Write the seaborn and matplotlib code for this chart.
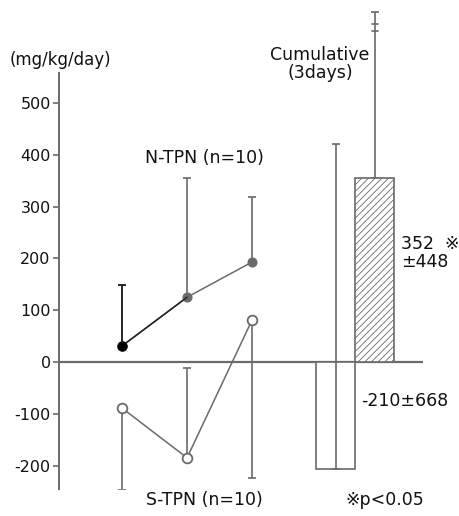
import matplotlib
matplotlib.use("Agg")
import matplotlib.pyplot as plt
import seaborn as sns
import numpy as np
import pandas as pd

# ---- data ----
days = [0, 1, 2]
n_tpn_mean = [31, 125, 193]
n_tpn_err_up = [118, 230, 126]           # upward SD only
s_tpn_mean = [-89, -185, 81]
s_tpn_err_low = [158, 0, 305]            # downward part
s_tpn_err_up = [0, 173, 0]               # upward part

bar_x = [3.29, 3.89]
bar_vals = [-207, 355]
bar_err_up = [628, 321]                  # error bar length above the bar value (second clipped at break)

yticks = [-200, -100, 0, 100, 200, 300, 400, 500]
ytick_labels = ["-200", "-100", "0", "100", "200", "300", "400", "500"]

sns.set_theme(style="white")
plt.rcParams['font.family'] = ['DejaVu Sans', 'Noto Sans CJK JP']
plt.rcParams['hatch.color'] = '#8a8a8a'
plt.rcParams['hatch.linewidth'] = 0.6
plt.rcParams['text.color'] = '#111111'
plt.rcParams['ytick.color'] = '#111111'

fig = plt.figure(figsize=(4.59, 5.16), dpi=100)
ax = fig.add_axes([59/459, (516-488.9)/516, (423-59)/459, (488.9-9.8)/516])
ax.set_xlim(-0.97, 4.63)
ax.set_ylim(-245, 680)

gray = '#6a6a6a'
dark = '#222222'

# zero line
ax.plot([-0.97, 4.63], [0, 0], color=gray, lw=1.6, zorder=1)

# error bars
ax.errorbar(days, n_tpn_mean, yerr=[[0, 0, 0], n_tpn_err_up], fmt='none',
            ecolor=gray, elinewidth=1.2, capsize=3, capthick=1.2, zorder=2)
ax.errorbar([days[0]], [n_tpn_mean[0]], yerr=[[0], [n_tpn_err_up[0]]], fmt='none',
            ecolor=dark, elinewidth=1.3, capsize=3, capthick=1.3, zorder=2)
ax.errorbar(days, s_tpn_mean, yerr=[s_tpn_err_low, s_tpn_err_up], fmt='none',
            ecolor=gray, elinewidth=1.2, capsize=3, capthick=1.2, zorder=2)

# lines
df_n = pd.DataFrame({"day": days, "val": n_tpn_mean})
df_s = pd.DataFrame({"day": days, "val": s_tpn_mean})
sns.lineplot(data=df_n, x="day", y="val", ax=ax, color=gray, lw=1.1,
             marker='o', markersize=6.5, markerfacecolor=gray, markeredgecolor=gray, zorder=3)
ax.plot(days[:2], n_tpn_mean[:2], color=dark, lw=1.1, zorder=3)
ax.plot([days[0]], [n_tpn_mean[0]], 'o', color='black', markersize=6.5, zorder=4)
sns.lineplot(data=df_s, x="day", y="val", ax=ax, color=gray, lw=1.1,
             marker='o', markersize=7, markerfacecolor='white', markeredgecolor=gray,
             markeredgewidth=1.3, zorder=3)

# bars
ax.bar(bar_x[0], bar_vals[0], width=0.6, facecolor='white', edgecolor=gray, lw=1.2, zorder=2)
ax.bar(bar_x[1], bar_vals[1], width=0.6, facecolor='white', edgecolor=gray, lw=1.2,
       hatch='/////', zorder=2)
ax.errorbar([bar_x[0]], [bar_vals[0]], yerr=[[0], [bar_err_up[0]]], fmt='none',
            ecolor=gray, elinewidth=1.2, capsize=3, capthick=1.2, zorder=3)
ax.errorbar([bar_x[1]], [bar_vals[1]], yerr=[[0], [bar_err_up[1]]], fmt='none',
            ecolor=gray, elinewidth=1.2, capsize=3, capthick=1.2, zorder=1)
# break marks on the clipped error bar
for yb in (640, 652):
    ax.plot([bar_x[1] - 0.05, bar_x[1] + 0.05], [yb, yb], color=gray, lw=1.2)

# axes styling
for s in ("top", "right", "bottom"):
    ax.spines[s].set_visible(False)
ax.spines["left"].set_bounds(-245, 558)
ax.spines["left"].set_color(gray)
ax.spines["left"].set_linewidth(1.4)
ax.set_yticks(yticks)
ax.set_yticklabels(ytick_labels)
ax.set_xticks([])
ax.tick_params(axis='y', direction='out', length=4, width=1.2, color=gray,
               labelsize=11.5, pad=2, left=True)
ax.set_xlabel("")
ax.set_ylabel("")

# texts
fs = 12.5
fig.text(10/459, 1 - 60/516, "(mg/kg/day)", fontsize=12, va='center', ha='left')
fig.text(204/459, 1 - 158/516, "N-TPN (n=10)", fontsize=fs, va='center', ha='center')
fig.text(204/459, 1 - 500/516, "S-TPN (n=10)", fontsize=fs, va='center', ha='center')
fig.text(320/459, 1 - 64/516, "Cumulative\n(3days)", fontsize=fs, va='center', ha='center',
         linespacing=1.0)
fig.text(401/459, 1 - 253/516, "352  ※\n±448", fontsize=fs, va='center', ha='left',
         linespacing=1.05)
fig.text(361/459, 1 - 401/516, "-210±668", fontsize=fs, va='center', ha='left')
fig.text(345/459, 1 - 500/516, "※p<0.05", fontsize=fs, va='center', ha='left')

fig.savefig("out.png", dpi=100, facecolor='white')
